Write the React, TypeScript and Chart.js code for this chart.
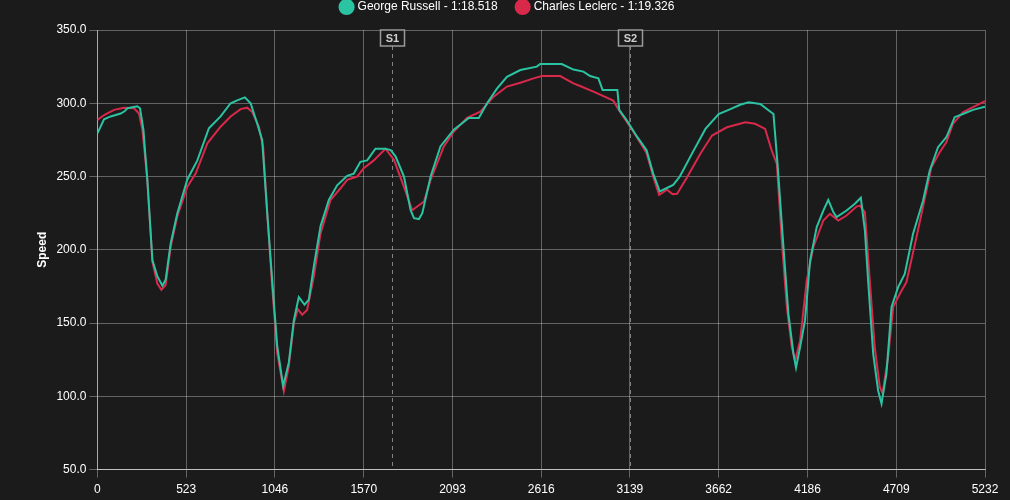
import React, { useEffect, useRef } from "react";
import { Chart, registerables } from "chart.js";

Chart.register(...registerables);

const russellLabel = "George Russell - 1:18.518";
const leclercLabel = "Charles Leclerc - 1:19.326";

const russellDistance = [
  0, 39, 78, 137, 160, 177, 235, 251, 271, 294, 324, 353, 383, 402, 432, 471, 530, 589, 657, 726,
  785, 824, 869, 903, 942, 971, 1001, 1030, 1060, 1095, 1128, 1158, 1187, 1221, 1246, 1276, 1315,
  1364, 1413, 1472, 1511, 1550, 1590, 1639, 1698, 1729, 1758, 1807, 1846, 1866, 1895, 1915, 1964,
  2022, 2101, 2189, 2248, 2297, 2355, 2414, 2493, 2590, 2610, 2737, 2806, 2865, 2904, 2953, 2978,
  3065, 3076, 3119, 3178, 3237, 3276, 3315, 3354, 3394, 3433, 3511, 3584, 3662, 3731, 3789, 3838,
  3907, 3985, 4009, 4044, 4073, 4103, 4118, 4142, 4171, 4201, 4240, 4279, 4308, 4338, 4357, 4416,
  4465, 4500, 4524, 4543, 4573, 4602, 4622, 4651, 4681, 4720, 4759, 4808, 4867, 4906, 4955, 5004,
  5053, 5102, 5161, 5232,
];
const russellSpeed = [
  279.5, 289, 291, 293, 294.5, 296.6, 298, 296.6, 282, 248, 193, 182, 175.5, 179.5, 204.5, 225, 248,
  261, 283, 291, 300, 302, 304, 300, 286, 275, 225, 179.5, 134, 107, 123, 152, 167.7, 162.5, 166,
  189, 216, 234, 244, 250.5, 252, 260, 261, 269, 269, 268, 263.6, 250, 227, 221.6, 221, 225, 250,
  270.5, 282, 290, 290, 300, 310, 318, 322.7, 325, 326.8, 326.8, 323, 321.6, 318.6, 317, 309, 309,
  295.5, 288.6, 277.7, 268, 252, 239.8, 242, 244.3, 250, 267, 282.5, 292.7, 296, 299, 300.7, 299.5,
  292.7, 258.6, 201.8, 156.4, 129, 119.5, 133.6, 151.8, 192.7, 215.5, 226.8, 234, 225.7, 222.3,
  226.8, 231.4, 235.5, 213, 179, 129, 104, 95, 115.5, 161, 174.5, 183.6, 211, 233.6, 254, 270,
  276.8, 290.5, 292.7, 295.5, 297.7,
];

const leclercDistance = [
  0, 39, 98, 157, 216, 245, 265, 294, 324, 353, 377, 402, 432, 471, 530, 579, 648, 726, 785, 844,
  883, 913, 952, 977, 1001, 1030, 1060, 1099, 1128, 1158, 1181, 1207, 1236, 1276, 1315, 1374, 1433,
  1472, 1531, 1570, 1629, 1698, 1748, 1807, 1856, 1925, 1964, 2042, 2101, 2179, 2257, 2336, 2414,
  2493, 2571, 2620, 2728, 2806, 2845, 2924, 3041, 3080, 3159, 3237, 3276, 3311, 3358, 3390, 3417,
  3476, 3554, 3623, 3711, 3819, 3877, 3936, 3975, 4005, 4034, 4064, 4093, 4113, 4142, 4181, 4220,
  4279, 4318, 4367, 4416, 4475, 4494, 4524, 4553, 4582, 4612, 4628, 4661, 4691, 4730, 4769, 4828,
  4887, 4916, 4965, 5004, 5043, 5102, 5161, 5232,
];
const leclercSpeed = [
  288.6, 292, 295.5, 297, 296.6, 293, 282, 248, 192, 177, 172.7, 176, 202, 223, 243, 252, 272.7, 284,
  291, 296, 297, 294, 284, 270, 225, 175, 129.5, 103.4, 120.5, 150, 159.5, 155.7, 159, 182, 211,
  234, 242, 247.7, 250, 255.7, 261, 269, 261.4, 243, 227, 233, 247.7, 270.5, 280.7, 290, 294.3,
  304.5, 311.4, 314, 317, 318.6, 318.6, 313.6, 311.8, 308, 301.8, 294.3, 280.7, 266, 250, 237.5,
  241, 238, 238.2, 249.5, 265.5, 278, 283.6, 287, 286, 282.5, 267.7, 258.6, 206.4, 161, 133.6,
  124.5, 138, 179, 201.8, 220, 224.5, 220, 223.4, 229.5, 230.2, 225.7, 179, 133.6, 106.4, 102,
  126.8, 161, 170, 178, 208.6, 240.5, 256.4, 266.6, 273.4, 286, 293.9, 297.3, 301.4,
];

const xTickValues = [0, 523, 1046, 1570, 2093, 2616, 3139, 3662, 4186, 4709, 5232];
const sectorLabels = ["S1", "S2"];
const sectorDistances = [1738, 3137];

const RUSSELL_COLOR = "#2bc4a3";
const LECLERC_COLOR = "#d8294b";
const BG = "#1b1b1b";
const FONT = "Arial, 'Liberation Sans', sans-serif";

const sectorPlugin = {
  id: "sectorLines",
  beforeDatasetsDraw(chart: any) {
    const { ctx, chartArea, scales } = chart;
    const xs = scales.x;
    ctx.save();
    sectorDistances.forEach((d, i) => {
      const x = Math.round(xs.getPixelForValue(d)) + 0.5;
      const boxW = 24;
      const boxH = 16;
      const top = chartArea.top;
      ctx.setLineDash([4, 4]);
      ctx.strokeStyle = "rgba(200,200,200,0.6)";
      ctx.lineWidth = 1;
      ctx.beginPath();
      ctx.moveTo(x, top + boxH);
      ctx.lineTo(x, chartArea.bottom);
      ctx.stroke();
      ctx.setLineDash([]);
      ctx.fillStyle = BG;
      ctx.fillRect(x - boxW / 2, top, boxW, boxH);
      ctx.strokeStyle = "#9a9a9a";
      ctx.lineWidth = 1.5;
      ctx.strokeRect(x - boxW / 2, top, boxW, boxH);
      ctx.fillStyle = "#cfcfcf";
      ctx.font = `bold 11px ${FONT}`;
      ctx.textAlign = "center";
      ctx.textBaseline = "middle";
      ctx.fillText(sectorLabels[i], x, top + boxH / 2 + 1);
    });
    ctx.restore();
  },
};

export default function App() {
  const canvasRef = useRef<HTMLCanvasElement | null>(null);

  useEffect(() => {
    const canvas = canvasRef.current;
    if (!canvas) return;
    const chart = new Chart(canvas, {
      type: "line",
      data: {
        datasets: [
          {
            label: russellLabel,
            data: russellDistance.map((d, i) => ({ x: d, y: russellSpeed[i] })),
            borderColor: RUSSELL_COLOR,
            backgroundColor: RUSSELL_COLOR,
            borderWidth: 2,
            pointRadius: 0,
            tension: 0,
          },
          {
            label: leclercLabel,
            data: leclercDistance.map((d, i) => ({ x: d, y: leclercSpeed[i] })),
            borderColor: LECLERC_COLOR,
            backgroundColor: LECLERC_COLOR,
            borderWidth: 2,
            pointRadius: 0,
            tension: 0,
          },
        ],
      },
      options: {
        responsive: false,
        animation: false,
        layout: { padding: { left: 31, right: 25, top: -19, bottom: -2 } },
        plugins: {
          legend: {
            position: "top",
            labels: {
              color: "#ffffff",
              usePointStyle: true,
              pointStyle: "circle",
              boxWidth: 10,
              boxHeight: 10,
              padding: 20,
              font: { family: FONT, size: 12 },
            },
          },
          title: {
            display: true,
            text: "",
            weight: 500,
            font: { size: 5, lineHeight: 1 },
            padding: { top: 1, bottom: 1 },
          },
          tooltip: { enabled: false },
        },
        scales: {
          x: {
            type: "linear",
            min: 0,
            max: 5232,
            afterBuildTicks: (axis: any) => {
              axis.ticks = xTickValues.map((v) => ({ value: v }));
            },
            ticks: {
              color: "#ffffff",
              font: { family: FONT, size: 12 },
              padding: 5,
              maxRotation: 0,
              autoSkip: false,
              callback: (v: any) => String(Math.round(Number(v))),
            },
            grid: { color: "rgba(255,255,255,0.32)", tickLength: 8 },
            border: { color: "rgba(255,255,255,0.6)" },
          },
          y: {
            min: 50,
            max: 350,
            ticks: {
              stepSize: 50,
              color: "#ffffff",
              font: { family: FONT, size: 12 },
              callback: (v: any) => Number(v).toFixed(1),
            },
            grid: { color: "rgba(255,255,255,0.32)", tickLength: 8 },
            border: { color: "rgba(255,255,255,0.45)" },
            title: {
              display: true,
              text: "Speed",
              color: "#ffffff",
              font: { family: FONT, size: 12, weight: "bold" },
            },
          },
        },
      },
      plugins: [sectorPlugin],
    });
    return () => chart.destroy();
  }, []);

  return (
    <div
      style={{
        position: "fixed",
        left: 0,
        top: 0,
        width: 1010,
        height: 500,
        background: BG,
      }}
    >
      <canvas ref={canvasRef} width={1010} height={500} style={{ display: "block" }} />
    </div>
  );
}
